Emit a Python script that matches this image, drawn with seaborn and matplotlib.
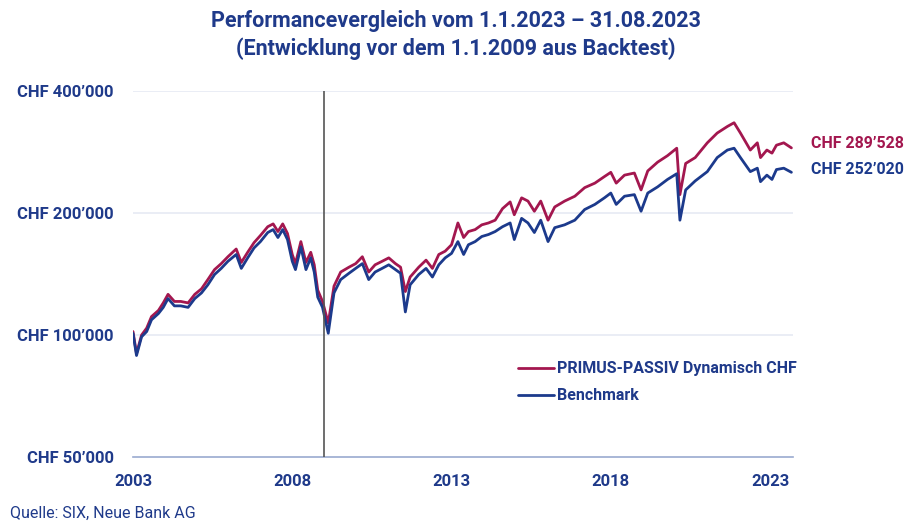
import numpy as np
import pandas as pd
import matplotlib
matplotlib.use("Agg")
import matplotlib.pyplot as plt
import seaborn as sns
from matplotlib.ticker import FixedLocator, NullLocator

# ---- data (values in CHF thousands) ----
years = [2003.00, 2003.11, 2003.27, 2003.43, 2003.58, 2003.80, 2003.95, 2004.10, 2004.30, 2004.50,
         2004.73, 2004.94, 2005.15, 2005.35, 2005.56, 2005.77, 2005.98, 2006.24, 2006.40, 2006.60,
         2006.80, 2007.00, 2007.23, 2007.40, 2007.55, 2007.70, 2007.85, 2008.00, 2008.10, 2008.27,
         2008.43, 2008.58, 2008.69, 2008.80, 2008.95, 2009.13, 2009.31, 2009.52, 2009.78, 2009.99,
         2010.20, 2010.40, 2010.60, 2010.82, 2011.03, 2011.24, 2011.40, 2011.55, 2011.70, 2011.97,
         2012.20, 2012.40, 2012.60, 2012.80, 2013.00, 2013.20, 2013.38, 2013.53, 2013.74, 2013.95,
         2014.16, 2014.37, 2014.60, 2014.84, 2014.97, 2015.20, 2015.40, 2015.60, 2015.80, 2016.03,
         2016.24, 2016.55, 2016.87, 2017.18, 2017.50, 2017.80, 2018.00, 2018.17, 2018.43, 2018.74,
         2018.95, 2019.16, 2019.47, 2019.78, 2020.07, 2020.17, 2020.35, 2020.65, 2021.03, 2021.34,
         2021.66, 2021.87, 2022.07, 2022.38, 2022.60, 2022.70, 2022.90, 2023.06, 2023.20, 2023.43,
         2023.67]
benchmark = [101, 89, 99, 102, 109, 113, 117, 123, 118, 118,
             117, 123, 127, 133, 141, 146, 152, 158, 146, 155,
             164, 170, 179, 182, 174, 182, 172, 152, 145, 165,
             145, 155, 143, 124, 117, 101, 127, 137, 142, 146,
             150, 137, 143, 146, 149, 145, 142, 114, 133, 141,
             146, 139, 149, 155, 159, 170, 158, 167, 170, 175,
             177, 180, 185, 189, 172, 194, 189, 179, 192, 170,
             184, 187, 192, 204, 210, 218, 224, 210, 220, 222,
             202, 224, 232, 242, 250, 192, 228, 240, 253, 274,
             286, 289, 274, 253, 258, 239, 248, 242, 256, 258,
             252.020]
primus = [102, 90, 100, 104, 111, 115, 120, 126, 121, 121,
          120, 126, 130, 137, 145, 150, 156, 163, 151, 160,
          169, 176, 185, 188, 180, 188, 178, 158, 150, 170,
          151, 160, 149, 129, 121, 107, 132, 143, 147, 150,
          156, 143, 149, 152, 155, 150, 147, 128, 139, 147,
          153, 146, 158, 161, 167, 189, 174, 180, 182, 187,
          189, 192, 205, 213, 198, 218, 214, 202, 214, 192,
          207, 214, 220, 231, 237, 246, 252, 237, 248, 251,
          228, 254, 267, 277, 289, 222, 265, 274, 298, 315,
          327, 334, 315, 286, 298, 274, 286, 281, 294, 298,
          289.528]

series_names = ["PRIMUS-PASSIV Dynamisch CHF", "Benchmark"]
y_ticks = [50000, 100000, 200000, 400000]
y_tick_labels = ["CHF 50’000", "CHF 100’000", "CHF 200’000", "CHF 400’000"]
x_ticks = [2003, 2008, 2013, 2018, 2023]
end_labels = ["CHF 289’528", "CHF 252’020"]
backtest_end = 2009.0

title = "Performancevergleich vom 1.1.2023 – 31.08.2023\n(Entwicklung vor dem 1.1.2009 aus Backtest)"
source = "Quelle: SIX, Neue Bank AG"

RED = "#A3174F"
BLUE = "#1C3A8C"
TXT = "#1F3A8A"

df = pd.concat([
    pd.DataFrame({"Jahr": years, "Wert": np.array(primus) * 1000, "Serie": series_names[0]}),
    pd.DataFrame({"Jahr": years, "Wert": np.array(benchmark) * 1000, "Serie": series_names[1]}),
])

sns.set_theme(style="white")
plt.rcParams["font.family"] = ["Roboto", "DejaVu Sans"]

fig = plt.figure(figsize=(9.12, 5.24), dpi=100)
ax = fig.add_axes([133 / 912, 1 - 457 / 524, (793 - 133) / 912, (457 - 91) / 524])

sns.lineplot(data=df, x="Jahr", y="Wert", hue="Serie", hue_order=series_names,
             palette=[RED, BLUE], linewidth=2.0, ax=ax, legend=True)

ax.set_yscale("log")
ax.set_ylim(50000, 400000)
ax.set_xlim(2003, 2023.72)

ax.yaxis.set_major_locator(FixedLocator(y_ticks))
ax.yaxis.set_minor_locator(NullLocator())
ax.set_yticklabels(y_tick_labels)
ax.set_xticks(x_ticks)
ax.set_xticklabels([str(t) for t in x_ticks])

for lab in ax.get_yticklabels() + ax.get_xticklabels():
    lab.set_fontweight("bold")
    lab.set_color(TXT)
    lab.set_fontsize(12)

ax.tick_params(axis="y", length=0, pad=14)
ax.tick_params(axis="x", direction="in", length=4, width=1, color="#9AAAD0", pad=12)
for lab in ax.get_yticklabels():
    lab.set_horizontalalignment("right")

for s in ["top", "right", "left"]:
    ax.spines[s].set_visible(False)
ax.spines["bottom"].set_color("#9AAAD0")
ax.spines["bottom"].set_linewidth(1.2)

for t in y_ticks[1:]:
    ax.axhline(t, color="#E6EAF3", linewidth=1.2, zorder=0)

ax.axvline(backtest_end, color="#555555", linewidth=1.2, zorder=5)

ax.set_xlabel("")
ax.set_ylabel("")

# end labels
ax.annotate(end_labels[0], xy=(years[-1], primus[-1] * 1000), xytext=(14, 3),
            textcoords="offset points", color=RED, fontsize=11.5, fontweight="bold",
            va="center", ha="left", annotation_clip=False)
ax.annotate(end_labels[1], xy=(years[-1], benchmark[-1] * 1000), xytext=(14, 2),
            textcoords="offset points", color=BLUE, fontsize=11.5, fontweight="bold",
            va="center", ha="left", annotation_clip=False)

leg = ax.legend(loc="upper left", bbox_to_anchor=(504 / 912, 1 - 347 / 524),
                bbox_transform=fig.transFigure, frameon=False, fontsize=11.5,
                handlelength=2.2, handletextpad=0.2, labelspacing=0.75)
for txt in leg.get_texts():
    txt.set_color(TXT)
    txt.set_fontweight("bold")
for h in leg.get_lines():
    h.set_linewidth(2.0)

fig.text(0.5, 1 - 35 / 524, title, ha="center", va="center", fontsize=15.5,
         fontweight="bold", color=TXT, linespacing=1.3)
fig.text(10 / 912, 1 - 513 / 524, source, ha="left", va="center", fontsize=11.5, color=TXT)

fig.savefig("out.png", dpi=100)
